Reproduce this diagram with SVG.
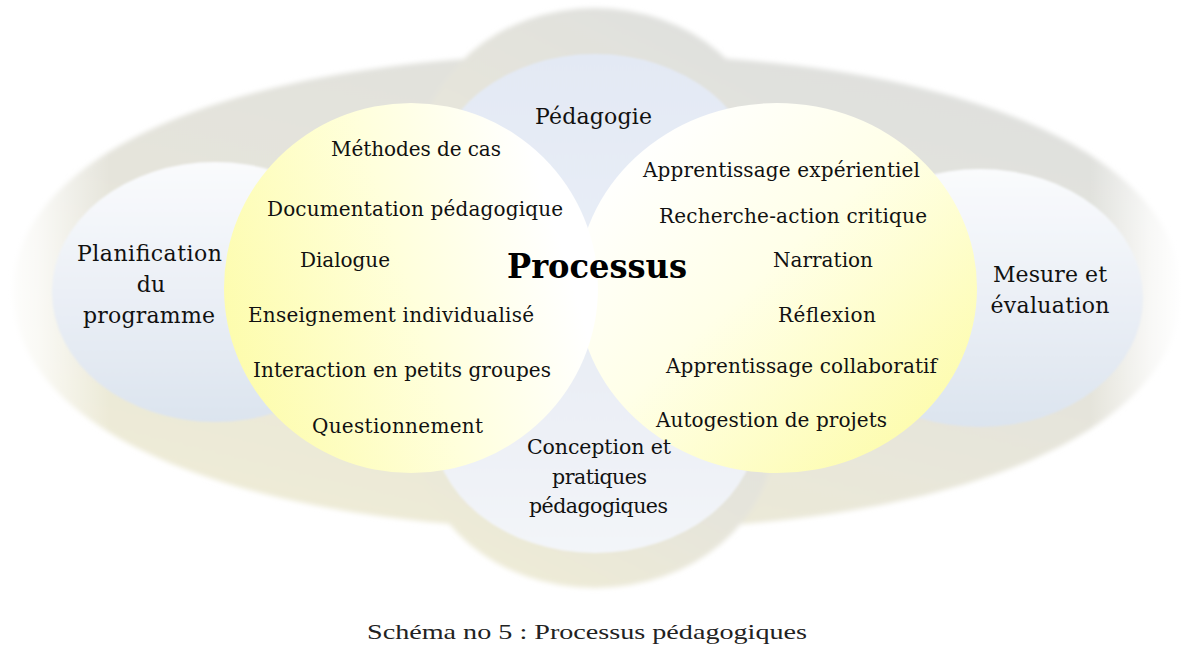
<svg xmlns="http://www.w3.org/2000/svg" width="1182" height="658" viewBox="0 0 1182 658">
  <defs>
    <linearGradient id="bandGrad" x1="0.8" y1="0" x2="0.2" y2="1">
      <stop offset="0" stop-color="#dfe0de"/>
      <stop offset="0.5" stop-color="#e5e4db"/>
      <stop offset="1" stop-color="#efecd6"/>
    </linearGradient>
    <linearGradient id="ellGrad" x1="0" y1="0" x2="0" y2="1">
      <stop offset="0" stop-color="#fafbfd"/>
      <stop offset="1" stop-color="#dce4ef"/>
    </linearGradient>
    <linearGradient id="ellGradTop" x1="0" y1="0" x2="0" y2="1">
      <stop offset="0" stop-color="#e3e9f4"/>
      <stop offset="1" stop-color="#eaeff7"/>
    </linearGradient>
    <linearGradient id="ellGradBottom" x1="0" y1="0" x2="0" y2="1">
      <stop offset="0" stop-color="#e6ebf3"/>
      <stop offset="1" stop-color="#f3f5f9"/>
    </linearGradient>
    <linearGradient id="yelLeft" x1="0" y1="0.65" x2="1" y2="0.35">
      <stop offset="0" stop-color="#fdfcac"/>
      <stop offset="0.5" stop-color="#ffffdc"/>
      <stop offset="0.9" stop-color="#ffffff"/>
    </linearGradient>
    <linearGradient id="yelRight" x1="0.15" y1="0.1" x2="0.9" y2="0.85">
      <stop offset="0" stop-color="#ffffff"/>
      <stop offset="0.45" stop-color="#ffffe8"/>
      <stop offset="1" stop-color="#fdfcae"/>
    </linearGradient>
    <linearGradient id="fadeL" x1="0" y1="0" x2="1" y2="0">
      <stop offset="0" stop-color="#ffffff" stop-opacity="1"/>
      <stop offset="0.35" stop-color="#ffffff" stop-opacity="0.75"/>
      <stop offset="1" stop-color="#ffffff" stop-opacity="0"/>
    </linearGradient>
    <linearGradient id="fadeR" x1="0" y1="0" x2="1" y2="0">
      <stop offset="0" stop-color="#ffffff" stop-opacity="0"/>
      <stop offset="0.65" stop-color="#ffffff" stop-opacity="0.75"/>
      <stop offset="1" stop-color="#ffffff" stop-opacity="1"/>
    </linearGradient>
    <filter id="soft" x="-5%" y="-10%" width="110%" height="120%">
      <feGaussianBlur stdDeviation="2.5"/>
    </filter>
    <filter id="soft1" x="-5%" y="-5%" width="110%" height="110%">
      <feGaussianBlur stdDeviation="0.8"/>
    </filter>
  </defs>
  <style>
    .lbl { font-family: "DejaVu Serif", "Liberation Serif", serif; font-size: 22px; fill: #111; text-anchor: middle; }
    .item { font-family: "DejaVu Serif", "Liberation Serif", serif; font-size: 20px; fill: #111; text-anchor: middle; }
    .mid { font-size: 20.5px; }
    .title { font-family: "DejaVu Serif", "Liberation Serif", serif; font-size: 34px; font-weight: bold; fill: #000; text-anchor: middle; }
    .cap { font-family: "Liberation Serif", "DejaVu Serif", serif; font-size: 22px; fill: #222; text-anchor: middle; }
  </style>

  <rect width="1182" height="658" fill="#ffffff"/>

  <g id="band" filter="url(#soft)" fill="url(#bandGrad)">
    <path d="M 13 292 C 13 149, 247 54, 597 54 C 947 54, 1181 149, 1181 292 C 1181 435, 947 530, 597 530 C 247 530, 13 435, 13 292 Z"/>
    <ellipse cx="595" cy="158" rx="175" ry="150"/>
    <ellipse cx="595" cy="438" rx="178" ry="150"/>
  </g>

  <rect x="0" y="0" width="110" height="658" fill="url(#fadeL)"/>
  <rect x="1090" y="0" width="92" height="658" fill="url(#fadeR)"/>

  <g id="connectors"/>

  <g id="node-pedagogie">
    <ellipse cx="595" cy="184" rx="163" ry="130" fill="url(#ellGradTop)" filter="url(#soft1)"/>
  </g>
  <g id="node-conception">
    <ellipse cx="595" cy="423" rx="163" ry="130" fill="url(#ellGradBottom)" filter="url(#soft1)"/>
  </g>
  <g id="node-planification">
    <ellipse cx="215" cy="292" rx="163" ry="130" fill="url(#ellGrad)" filter="url(#soft1)"/>
    <text class="lbl" x="149.5" y="261" textLength="145">Planification</text>
    <text class="lbl" x="151" y="292">du</text>
    <text class="lbl" x="149" y="323" textLength="132">programme</text>
  </g>
  <g id="node-mesure">
    <ellipse cx="980" cy="298" rx="163" ry="129" fill="url(#ellGrad)" filter="url(#soft1)"/>
  </g>

  <g id="node-processus-right">
    <ellipse cx="777" cy="288" rx="200" ry="185" fill="url(#yelRight)"/>
    <text class="item" x="781.5" y="177" textLength="277">Apprentissage expérientiel</text>
    <text class="item" x="793" y="223" textLength="268">Recherche-action critique</text>
    <text class="item" x="823" y="267" textLength="100">Narration</text>
    <text class="item" x="827" y="322" textLength="98">Réflexion</text>
    <text class="item" x="801.5" y="373" textLength="271">Apprentissage collaboratif</text>
    <text class="item" x="771.5" y="427" textLength="231">Autogestion de projets</text>
  </g>

  <g id="node-processus-left">
    <ellipse cx="411" cy="288" rx="187" ry="185" fill="url(#yelLeft)"/>
    <text class="item" x="416" y="156" textLength="170">Méthodes de cas</text>
    <text class="item" x="415" y="216" textLength="296">Documentation pédagogique</text>
    <text class="item" x="345" y="267" textLength="90">Dialogue</text>
    <text class="item" x="391" y="322" textLength="286">Enseignement individualisé</text>
    <text class="item" x="402" y="377" textLength="298">Interaction en petits groupes</text>
    <text class="item" x="397.5" y="433" textLength="171">Questionnement</text>
  </g>

  <g id="labels">
    <text class="lbl" x="593.5" y="124" textLength="117">Pédagogie</text>
    <text class="lbl" x="1050" y="282" textLength="114">Mesure et</text>
    <text class="lbl" x="1050" y="313" textLength="119">évaluation</text>
    <text class="item mid" x="599" y="454" textLength="144">Conception et</text>
    <text class="item mid" x="599.5" y="484" textLength="95">pratiques</text>
    <text class="item mid" x="598.5" y="513" textLength="139">pédagogiques</text>
  </g>

  <g id="node-processus-title">
    <text class="title" x="597" y="278" textLength="180" lengthAdjust="spacingAndGlyphs">Processus</text>
  </g>

  <g id="caption">
    <text class="cap" x="587" y="639" textLength="440" lengthAdjust="spacingAndGlyphs">Schéma no 5 : Processus pédagogiques</text>
  </g>
</svg>
